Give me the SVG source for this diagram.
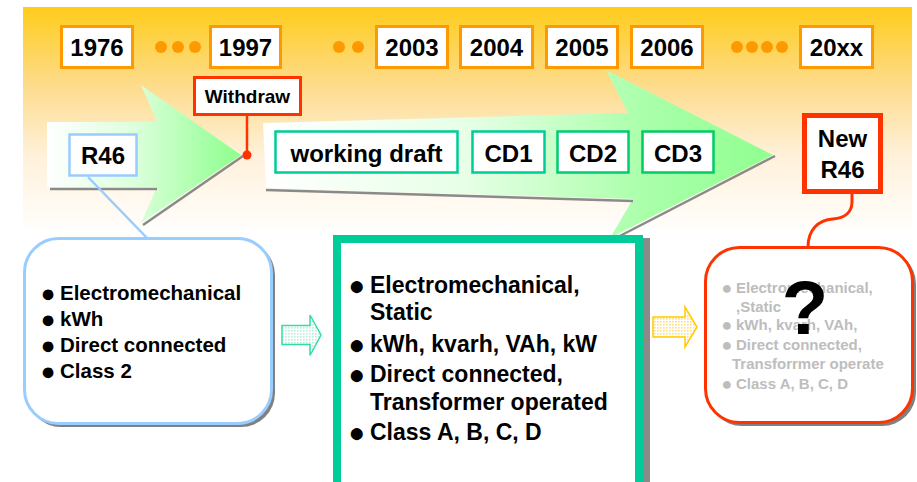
<svg xmlns="http://www.w3.org/2000/svg" width="917" height="482" viewBox="0 0 917 482">
<defs>
<style>
.f{font-family:"Liberation Sans",Arial,Helvetica,sans-serif;font-weight:bold;fill:#000}
.yr{fill:#fff;stroke:#FF9900;stroke-width:3}
.yt{font-size:24px;text-anchor:middle}
.dot{fill:#FF9900}
.gb{fill:#fff;stroke:#00CC99;stroke-width:2.5}
.gt{font-size:24px;text-anchor:middle}
.shadow{fill:none;stroke:#8A8A8A;stroke-width:2.5}
.m{font-size:23px}
.l{font-size:20.5px}
.r{font-size:15px;fill:#BDBDBD}
.bm{font-size:28px;text-anchor:middle}
.bl{font-size:25px;text-anchor:middle}
.br{font-size:18px;text-anchor:middle;fill:#BDBDBD}
</style>
<linearGradient id="bg" x1="0" y1="7" x2="0" y2="235" gradientUnits="userSpaceOnUse">
<stop offset="0" stop-color="#FFCC1A"/>
<stop offset="0.35" stop-color="#FDDC8E"/>
<stop offset="0.65" stop-color="#FFF1DA"/>
<stop offset="1" stop-color="#FFFFFF"/>
</linearGradient>
<linearGradient id="g1" x1="47" y1="0" x2="241" y2="0" gradientUnits="userSpaceOnUse">
<stop offset="0" stop-color="#FFFFFF"/>
<stop offset="0.45" stop-color="#DDFFDD"/>
<stop offset="1" stop-color="#8CFF8C"/>
</linearGradient>
<linearGradient id="g2" x1="263" y1="0" x2="773" y2="0" gradientUnits="userSpaceOnUse">
<stop offset="0" stop-color="#FFFFFF"/>
<stop offset="0.4" stop-color="#E6FFE6"/>
<stop offset="0.75" stop-color="#AAFFAA"/>
<stop offset="1" stop-color="#90FF90"/>
</linearGradient>
<pattern id="pg" width="3" height="3" patternUnits="userSpaceOnUse"><rect width="3" height="3" fill="#FFFFFF"/><rect width="1.6" height="1.6" fill="#B8EEDA"/></pattern>
<pattern id="py" width="3" height="3" patternUnits="userSpaceOnUse"><rect width="3" height="3" fill="#FFFFFF"/><rect width="1.6" height="1.6" fill="#FFDF80"/></pattern>
</defs>

<rect x="23" y="7" width="889" height="228" fill="url(#bg)"/>

<g id="arrow1">
<polygon points="47,122 157,122 141,85 241,155 141,223 157,187 47,187" fill="url(#g1)"/>
<polyline class="shadow" points="50,189 157,189"/>
<polyline class="shadow" points="143,225 243,156"/>
</g>
<g id="arrow2">
<polygon points="263,123 628,113 606,70 773,155 610,238 633,199 266,188" fill="url(#g2)"/>
<polyline class="shadow" points="266,190 633,201"/>
<polyline class="shadow" points="612,240 775,156"/>
</g>

<g id="years">
<g id="y1976"><rect class="yr" x="61.5" y="26.5" width="71" height="41"/><text class="f yt" x="97" y="56">1976</text></g>
<g id="y1997"><rect class="yr" x="210.5" y="26.5" width="70" height="41"/><text class="f yt" x="245.5" y="56">1997</text></g>
<g id="y2003"><rect class="yr" x="376.5" y="26.5" width="71" height="41"/><text class="f yt" x="412" y="56">2003</text></g>
<g id="y2004"><rect class="yr" x="460.5" y="26.5" width="72" height="41"/><text class="f yt" x="496.5" y="56">2004</text></g>
<g id="y2005"><rect class="yr" x="546.5" y="26.5" width="71" height="41"/><text class="f yt" x="582" y="56">2005</text></g>
<g id="y2006"><rect class="yr" x="631.5" y="26.5" width="71" height="41"/><text class="f yt" x="667" y="56">2006</text></g>
<g id="y20xx"><rect class="yr" x="800.5" y="26.5" width="72" height="41"/><text class="f yt" x="836.5" y="56">20xx</text></g>
<g id="dots">
<circle class="dot" cx="161" cy="47" r="6"/><circle class="dot" cx="178" cy="47" r="6"/><circle class="dot" cx="195" cy="47" r="6"/>
<circle class="dot" cx="339" cy="47" r="6"/><circle class="dot" cx="358" cy="47" r="6"/>
<circle class="dot" cx="737" cy="47" r="6"/><circle class="dot" cx="752" cy="47" r="6"/><circle class="dot" cx="767" cy="47" r="6"/><circle class="dot" cx="782" cy="47" r="6"/>
</g>
</g>

<g id="connectors">
<line x1="88" y1="177" x2="147" y2="238" stroke="#99CCFF" stroke-width="2.5"/>
<line x1="247" y1="116" x2="247" y2="154" stroke="#FF3300" stroke-width="2.5"/>
<circle cx="247" cy="155" r="4.5" fill="#FF3300"/>
<path d="M852,194 V202 C852,212 845,218 833,219 C818,220 808,230 808,247" fill="none" stroke="#FF3300" stroke-width="3"/>
<polygon id="arrowSmallGreen" points="282,325.5 310,325.5 310,315 321,335 310,355.5 310,344.5 282,344.5" fill="url(#pg)" stroke="#33DDAA" stroke-width="1.5"/>
<polygon id="arrowSmallYellow" points="653,317 685,317 685,307 697,327 685,347 685,337 653,337" fill="url(#py)" stroke="#FFCC00" stroke-width="1.5"/>
</g>

<g id="withdraw"><rect x="194.5" y="77.5" width="106" height="37" fill="#fff" stroke="#FF3300" stroke-width="3"/><text class="f" x="247.5" y="103" font-size="19" text-anchor="middle">Withdraw</text></g>
<g id="r46"><rect x="69.5" y="134.5" width="67" height="41" fill="#fff" stroke="#99CCFF" stroke-width="2.5"/><text class="f gt" x="103" y="164">R46</text></g>
<g id="wd"><rect class="gb" x="275.5" y="131.5" width="182" height="41"/><text class="f gt" x="366.5" y="162">working draft</text></g>
<g id="cd1"><rect class="gb" x="472.5" y="131.5" width="72" height="41"/><text class="f gt" x="508.5" y="162">CD1</text></g>
<g id="cd2"><rect class="gb" x="557.5" y="131.5" width="71" height="41" style="stroke:#00CC77"/><text class="f gt" x="593" y="162">CD2</text></g>
<g id="cd3"><rect class="gb" x="642.5" y="131.5" width="71" height="41" style="stroke:#00CC66"/><text class="f gt" x="678" y="162">CD3</text></g>
<g id="newr46"><rect x="804.5" y="115.5" width="76" height="76" fill="#fff" stroke="#FF3300" stroke-width="5"/><text class="f gt" x="842.5" y="147">New</text><text class="f gt" x="842.5" y="178">R46</text></g>

<g id="boxOld">
<rect x="27" y="241" width="248" height="186" rx="34" fill="#808080"/>
<rect x="24.5" y="238.5" width="247" height="185" rx="34" fill="#fff" stroke="#99CCFF" stroke-width="3"/>
<text class="f bl" x="48" y="302">●</text>
<text class="f bl" x="48" y="328">●</text>
<text class="f bl" x="48" y="354">●</text>
<text class="f bl" x="48" y="380">●</text>
<text class="f l" x="60" y="300">Electromechanical</text>
<text class="f l" x="60" y="326">kWh</text>
<text class="f l" x="60" y="352">Direct connected</text>
<text class="f l" x="60" y="378">Class 2</text>
</g>

<g id="boxCurrent">
<rect x="340" y="242" width="306" height="246" fill="none" stroke="#8A8A8A" stroke-width="8"/>
<rect x="337" y="239" width="302" height="247" fill="#fff" stroke="#00CC99" stroke-width="8"/>
<text class="f bm" x="357" y="295">●</text>
<text class="f bm" x="357" y="354">●</text>
<text class="f bm" x="357" y="384">●</text>
<text class="f bm" x="357" y="442">●</text>
<text class="f m" x="370" y="293">Electromechanical,</text>
<text class="f m" x="370" y="320">Static</text>
<text class="f m" x="370" y="352">kWh, kvarh, VAh, kW</text>
<text class="f m" x="370" y="382">Direct connected,</text>
<text class="f m" x="370" y="410">Transformer operated</text>
<text class="f m" x="370" y="440">Class A, B, C, D</text>
</g>

<g id="boxNew">
<rect x="708" y="250" width="208" height="176" rx="34" fill="#808080"/>
<rect x="705.5" y="247.5" width="207" height="175" rx="34" fill="#fff" stroke="#FF3300" stroke-width="3"/>
<text class="f br" x="727" y="294">●</text>
<text class="f br" x="727" y="331">●</text>
<text class="f br" x="727" y="351">●</text>
<text class="f br" x="727" y="390">●</text>
<text class="f r" x="736" y="293">Electromechanical,</text>
<text class="f r" x="736" y="312">,Static</text>
<text class="f r" x="736" y="330">kWh, kvarh, VAh,</text>
<text class="f r" x="736" y="350">Direct connected,</text>
<text class="f r" x="732" y="369">Transforrmer operate</text>
<text class="f r" x="736" y="389">Class A, B, C, D</text>
<text class="f" x="805" y="334" font-size="76" text-anchor="middle">?</text>
</g>
</svg>
